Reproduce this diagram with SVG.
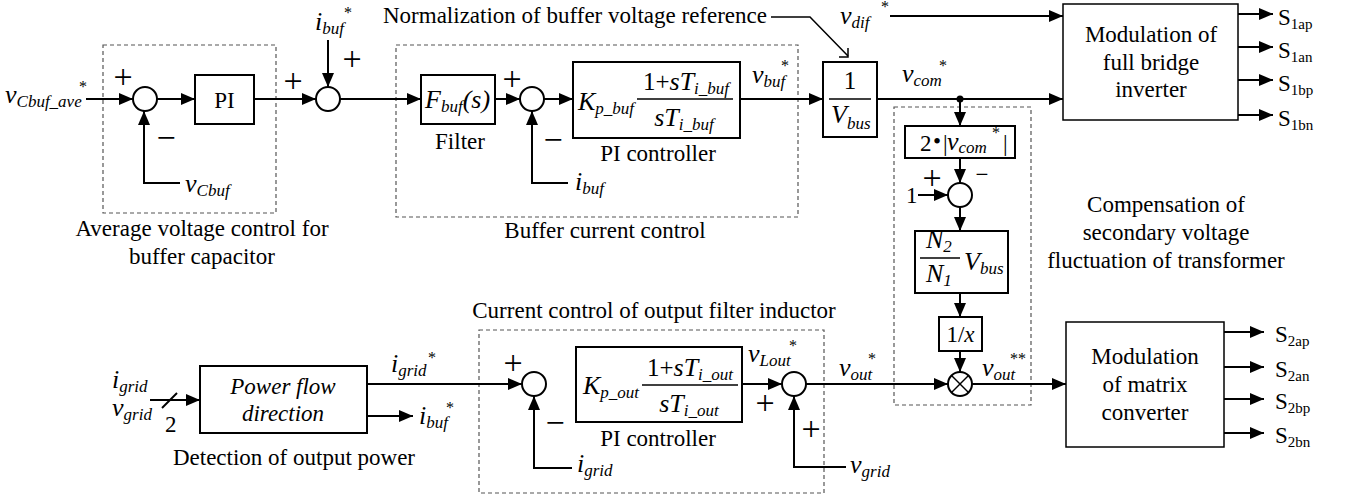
<svg xmlns="http://www.w3.org/2000/svg" width="1346" height="500" viewBox="0 0 1346 500">
<defs>
<marker id="ah" markerWidth="14" markerHeight="12" refX="14" refY="6" orient="auto" markerUnits="userSpaceOnUse"><path d="M0,0 L14,6 L0,12 z" fill="#000"/></marker>
<style>
text{font-family:"Liberation Serif","Times New Roman",serif;fill:#000;font-size:23px}
.c{text-anchor:middle}
.e{text-anchor:end}
.it{font-style:italic}
.v{font-size:26px;font-style:italic}
.n{font-size:25px;font-style:normal}
.s{font-size:17px;font-style:italic}
.r{font-size:15px;font-style:normal}
.a{font-size:16px;text-anchor:middle}
.pm{font-size:34px;text-anchor:middle}
.box{fill:#fff;stroke:#000;stroke-width:2}
.thin{fill:#fff;stroke:#000;stroke-width:1.5}
.dash{fill:none;stroke:#555;stroke-width:1.2;stroke-dasharray:4 3}
.ln{fill:none;stroke:#000;stroke-width:2}
.fl{fill:none;stroke:#000;stroke-width:1.5}
.ar{marker-end:url(#ah)}
.sum{fill:#fff;stroke:#000;stroke-width:2}
</style>
</defs>
<rect width="1346" height="500" fill="#fff"/>

<g id="groups">
<rect class="dash" x="103" y="45" width="173" height="168"/>
<rect class="dash" x="396" y="45" width="402" height="172"/>
<rect class="dash" x="894" y="107" width="137" height="298"/>
<rect class="dash" x="479" y="330" width="345" height="163"/>
<text class="c" x="202" y="236">Average voltage control for</text>
<text class="c" x="202" y="264">buffer capacitor</text>
<text class="c" x="605" y="238">Buffer current control</text>
<text class="c" x="1166" y="212">Compensation of</text>
<text class="c" x="1166" y="240">secondary voltage</text>
<text class="c" x="1166" y="268">fluctuation of transformer</text>
<text class="c" x="654" y="318">Current control of output filter inductor</text>
<text class="c" x="294" y="465">Detection of output power</text>
<text class="e" x="767" y="23">Normalization of buffer voltage reference</text>
</g>

<g id="connectors">
<line class="ln ar" x1="86" y1="99" x2="133" y2="99"/>
<line class="ln ar" x1="157" y1="99" x2="195" y2="99"/>
<polyline class="ln ar" points="180,183 144,183 144,111"/>
<line class="ln ar" x1="254" y1="99" x2="316" y2="99"/>
<line class="ln ar" x1="328" y1="40" x2="328" y2="87"/>
<line class="ln ar" x1="340" y1="99" x2="421" y2="99"/>
<line class="ln ar" x1="495" y1="99" x2="520" y2="99"/>
<line class="ln ar" x1="544" y1="99" x2="573" y2="99"/>
<polyline class="ln ar" points="568,183 532,183 532,111"/>
<line class="ln ar" x1="740" y1="99" x2="823" y2="99"/>
<polyline class="fl" points="771,17 810,17 848,56"/>
<polyline class="fl" points="839,57 848,57 848,48"/>
<line class="ln ar" x1="890" y1="16" x2="1063" y2="16"/>
<line class="ln ar" x1="877" y1="99" x2="1063" y2="99"/>
<circle cx="960" cy="99" r="3.5" fill="#000"/>
<line class="ln ar" x1="960" y1="99" x2="960" y2="126"/>
<line class="ln ar" x1="960" y1="158" x2="960" y2="183"/>
<line class="ln ar" x1="918" y1="195" x2="948" y2="195"/>
<line class="ln ar" x1="960" y1="207" x2="960" y2="231"/>
<line class="ln ar" x1="960" y1="293" x2="960" y2="317"/>
<line class="ln ar" x1="960" y1="351" x2="960" y2="372"/>
<line class="ln ar" x1="806" y1="384" x2="948" y2="384"/>
<line class="ln ar" x1="972" y1="384" x2="1066" y2="384"/>
<line class="ln ar" x1="1238" y1="14" x2="1273" y2="14"/>
<line class="ln ar" x1="1238" y1="47" x2="1273" y2="47"/>
<line class="ln ar" x1="1238" y1="80" x2="1273" y2="80"/>
<line class="ln ar" x1="1238" y1="115" x2="1273" y2="115"/>
<line class="ln ar" x1="1224" y1="332" x2="1264" y2="332"/>
<line class="ln ar" x1="1224" y1="367" x2="1264" y2="367"/>
<line class="ln ar" x1="1224" y1="399" x2="1264" y2="399"/>
<line class="ln ar" x1="1224" y1="433" x2="1264" y2="433"/>
<line class="ln ar" x1="150" y1="400" x2="200" y2="400"/>
<line class="ln" x1="162" y1="408" x2="177" y2="393"/>
<line class="ln ar" x1="367" y1="384" x2="522" y2="384"/>
<line class="ln ar" x1="367" y1="416" x2="413" y2="416"/>
<polyline class="ln ar" points="572,468 534,468 534,396"/>
<line class="ln ar" x1="742" y1="384" x2="782" y2="384"/>
<polyline class="ln ar" points="846,467 794,467 794,396"/>
</g>

<g id="in-vcbuf-ave">
<text x="5" y="103"><tspan class="v">v</tspan><tspan class="s" dy="4" font-size="15">Cbuf_ave</tspan></text>
<text class="a" x="83" y="92">*</text>
</g>
<g id="sum1">
<circle class="sum" cx="145" cy="99" r="12"/>
<text class="pm" x="123" y="88">+</text>
<text class="pm" x="166" y="149">−</text>
<text x="185" y="192"><tspan class="v">v</tspan><tspan class="s" dy="4">Cbuf</tspan></text>
</g>
<g id="pi1">
<rect class="box" x="195" y="75" width="59" height="49"/>
<text class="c" x="224.5" y="108" font-size="26">PI</text>
</g>
<g id="sum2">
<circle class="sum" cx="328" cy="99" r="12"/>
<text class="pm" x="293" y="92">+</text>
<text class="pm" x="352" y="70">+</text>
<text x="315" y="30"><tspan class="v">i</tspan><tspan class="s" dy="4">buf</tspan></text>
<text class="a" x="348" y="18">*</text>
</g>
<g id="filter">
<rect class="box" x="421" y="75" width="74" height="49"/>
<text x="425" y="108"><tspan class="v">F</tspan><tspan class="s" dy="4">buf</tspan><tspan class="v" dy="-4">(s)</tspan></text>
<text class="c" x="460" y="149">Filter</text>
</g>
<g id="sum3">
<circle class="sum" cx="532" cy="99" r="12"/>
<text class="pm" x="512" y="90">+</text>
<text class="pm" x="553" y="151">−</text>
<text x="575" y="190"><tspan class="v">i</tspan><tspan class="s" dy="4">buf</tspan></text>
</g>
<g id="pi-buf">
<rect class="box" x="573" y="62" width="167" height="76"/>
<text x="578" y="110"><tspan class="v">K</tspan><tspan class="s" dy="4">p_buf</tspan></text>
<line class="fl" x1="637" y1="99" x2="733" y2="99"/>
<text class="c" x="686" y="90"><tspan class="n">1+</tspan><tspan class="v">sT</tspan><tspan class="s" dy="4">i_buf</tspan></text>
<text class="c" x="684" y="126"><tspan class="v">sT</tspan><tspan class="s" dy="4">i_buf</tspan></text>
<text class="c" x="658" y="161">PI controller</text>
<text x="752" y="83"><tspan class="v">v</tspan><tspan class="s" dy="4">buf</tspan></text>
<text class="a" x="785" y="71">*</text>
</g>
<g id="norm">
<rect class="box" x="823" y="62" width="54" height="75"/>
<text class="c n" x="850" y="89">1</text>
<line class="fl" x1="829" y1="99" x2="871" y2="99"/>
<text x="831" y="123"><tspan class="v">V</tspan><tspan class="s" dy="6">bus</tspan></text>
</g>
<g id="vdif">
<text x="840" y="24"><tspan class="v">v</tspan><tspan class="s" dy="4">dif</tspan></text>
<text class="a" x="885" y="12">*</text>
</g>
<g id="vcom">
<text x="902" y="82"><tspan class="v">v</tspan><tspan class="s" dy="4">com</tspan></text>
<text class="a" x="943" y="71">*</text>
</g>
<g id="mod-fb">
<rect class="thin" x="1063" y="4" width="175" height="116"/>
<text class="c" x="1151" y="42">Modulation of</text>
<text class="c" x="1151" y="70">full bridge</text>
<text class="c" x="1151" y="97">inverter</text>
<text x="1278" y="25">S<tspan class="r" dy="4">1ap</tspan></text>
<text x="1278" y="58">S<tspan class="r" dy="4">1an</tspan></text>
<text x="1278" y="91">S<tspan class="r" dy="4">1bp</tspan></text>
<text x="1278" y="126">S<tspan class="r" dy="4">1bn</tspan></text>
</g>
<g id="abs">
<rect class="box" x="905" y="126" width="110" height="32"/>
<text x="920" y="151" font-size="24">2</text>
<text x="933" y="149" font-size="18">•</text>
<text x="943" y="151" font-size="24">|</text>
<text x="947" y="150"><tspan class="v">v</tspan><tspan class="s" dy="3" font-size="15">com</tspan></text>
<text class="a" x="996" y="138" font-size="14">*</text>
<text x="1003" y="151" font-size="24">|</text>
</g>
<g id="sum4">
<circle class="sum" cx="960" cy="195" r="12"/>
<text x="906" y="203">1</text>
<text class="pm" x="932" y="189">+</text>
<text class="c" x="982" y="182" font-size="28">−</text>
</g>
<g id="ratio">
<rect class="box" x="915" y="231" width="93" height="62"/>
<text x="926" y="248"><tspan class="v">N</tspan><tspan class="s" dy="4" font-style="normal">2</tspan></text>
<line class="fl" x1="920" y1="258" x2="960" y2="258"/>
<text x="926" y="282"><tspan class="v">N</tspan><tspan class="s" dy="4">1</tspan></text>
<text x="964" y="270"><tspan class="v">V</tspan><tspan class="s" dy="4">bus</tspan></text>
</g>
<g id="recip">
<rect class="box" x="939" y="317" width="43" height="34"/>
<text class="c" x="960.5" y="342" font-size="24">1/<tspan font-style="italic">x</tspan></text>
</g>
<g id="mult">
<circle class="sum" cx="960" cy="384" r="12"/>
<line class="fl" x1="951.5" y1="375.5" x2="968.5" y2="392.5"/>
<line class="fl" x1="968.5" y1="375.5" x2="951.5" y2="392.5"/>
<text x="982" y="376"><tspan class="v">v</tspan><tspan class="s" dy="4">out</tspan></text>
<text class="a" x="1018" y="364">**</text>
</g>
<g id="vout">
<text x="839" y="376"><tspan class="v">v</tspan><tspan class="s" dy="4">out</tspan></text>
<text class="a" x="872" y="364">*</text>
</g>
<g id="mod-mc">
<rect class="thin" x="1066" y="322" width="158" height="125"/>
<text class="c" x="1145" y="364">Modulation</text>
<text class="c" x="1145" y="392">of matrix</text>
<text class="c" x="1145" y="420">converter</text>
<text x="1275" y="342">S<tspan class="r" dy="4">2ap</tspan></text>
<text x="1275" y="377">S<tspan class="r" dy="4">2an</tspan></text>
<text x="1275" y="409">S<tspan class="r" dy="4">2bp</tspan></text>
<text x="1275" y="443">S<tspan class="r" dy="4">2bn</tspan></text>
</g>
<g id="in-grid">
<text x="112" y="388"><tspan class="v">i</tspan><tspan class="s" dy="4">grid</tspan></text>
<text x="112" y="416"><tspan class="v">v</tspan><tspan class="s" dy="4">grid</tspan></text>
<text x="165" y="432">2</text>
</g>
<g id="power-flow">
<rect class="box" x="200" y="366" width="167" height="67"/>
<text class="c it" x="283" y="394">Power flow</text>
<text class="c it" x="283" y="421">direction</text>
<text x="391" y="372"><tspan class="v">i</tspan><tspan class="s" dy="4">grid</tspan></text>
<text class="a" x="432" y="363">*</text>
<text x="419" y="424"><tspan class="v">i</tspan><tspan class="s" dy="4">buf</tspan></text>
<text class="a" x="450" y="413">*</text>
</g>
<g id="sum5">
<circle class="sum" cx="534" cy="384" r="12"/>
<text class="pm" x="513" y="374">+</text>
<text class="pm" x="555" y="434">−</text>
<text x="577" y="472"><tspan class="v">i</tspan><tspan class="s" dy="4">grid</tspan></text>
</g>
<g id="pi-out">
<rect class="box" x="576" y="347" width="166" height="75"/>
<text x="583" y="394"><tspan class="v">K</tspan><tspan class="s" dy="4">p_out</tspan></text>
<line class="fl" x1="642" y1="385" x2="738" y2="385"/>
<text class="c" x="690" y="376"><tspan class="n">1+</tspan><tspan class="v">sT</tspan><tspan class="s" dy="4">i_out</tspan></text>
<text class="c" x="689" y="412"><tspan class="v">sT</tspan><tspan class="s" dy="4">i_out</tspan></text>
<text class="c" x="658" y="446">PI controller</text>
<text x="748" y="362"><tspan class="v">v</tspan><tspan class="s" dy="4">Lout</tspan></text>
<text class="a" x="793" y="351">*</text>
</g>
<g id="sum6">
<circle class="sum" cx="794" cy="384" r="12"/>
<text class="pm" x="765" y="414">+</text>
<text class="pm" x="811" y="440">+</text>
<text x="850" y="473"><tspan class="v">v</tspan><tspan class="s" dy="4">grid</tspan></text>
</g>
</svg>
